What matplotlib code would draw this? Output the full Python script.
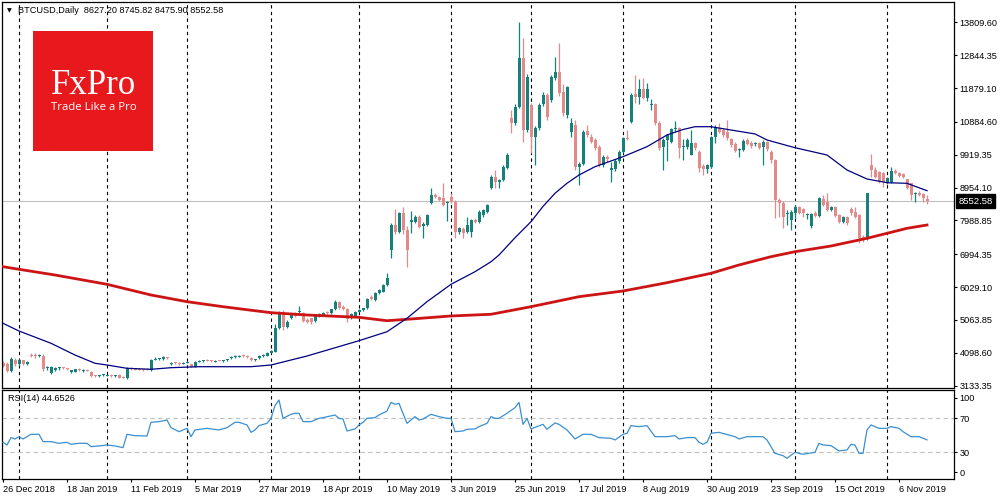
import numpy as np
import pandas as pd
import matplotlib
matplotlib.use('Agg')
import matplotlib.pyplot as plt
import matplotlib.transforms as mtransforms
from matplotlib.patches import Rectangle

plt.rcParams['font.family'] = ['Liberation Sans', 'DejaVu Sans']

# daily bars, weekdays only (no bar on 1 Jan)
dates = pd.bdate_range('2018-12-26', periods=233)
dates = dates[dates != pd.Timestamp('2019-01-01')]

opens = [
    3800, 3780, 3570, 3890, 3760, 3880, 3780, 4030, 4020, 4000,
    4020, 3640, 3520, 3600, 3640, 3660, 3630, 3550, 3545, 3610,
    3570, 3590, 3550, 3430, 3410, 3440, 3430, 3440, 3420, 3450,
    3390, 3360, 3630, 3620, 3610, 3610, 3610, 3580, 3900, 3920,
    3920, 3960, 3780, 3810, 3800, 3780, 3810, 3760, 3690, 3840,
    3850, 3890, 3870, 3840, 3880, 3860, 3890, 3940, 3980, 3990,
    4030, 4000, 3960, 3890, 3940, 4010, 4020, 4100, 4130, 4830,
    5250, 4860, 5110, 5240, 5300, 5260, 5060, 5110, 5020, 5190,
    5210, 5290, 5260, 5380, 5590, 5440, 5380, 5110, 5160, 5310,
    5360, 5410, 5750, 5650, 5850, 5900, 6090, 7120, 7860, 7660,
    8200, 7710, 7950, 7950, 8100, 7830, 7860, 8510, 8740, 8690,
    8640, 8500, 8690, 8540, 7660, 7730, 7660, 7660, 8000, 7950,
    8150, 8240, 8930, 9250, 9120, 9180, 9520, 10990, 10840, 11330,
    12750, 10645, 11380, 10450, 10690, 11400, 11670, 11530, 12160, 12360,
    11770, 11090, 10600, 10790, 9570, 9660, 10610, 10450, 10350, 10150,
    9620, 9860, 9480, 9500, 9730, 10010, 10420, 10890, 11690, 11620,
    11840, 11580, 11380, 11410, 10860, 10140, 10350, 10300, 10680, 10690,
    10140, 10140, 9920, 10250, 9990, 9600, 9490, 9570, 10450, 10695,
    10650, 10600, 10370, 10230, 10060, 10060, 10350, 10270, 10220, 10250,
    10140, 10280, 10010, 9760, 8590, 8510, 8180, 8000, 8200, 8390,
    8310, 8160, 7825, 8220, 8120, 8610, 8540, 8295, 8370, 8150,
    7950, 8080, 8315, 8250, 8150, 7510, 7430, 9617, 9470, 9420,
    9372, 9080, 9130, 9450, 9372, 9350, 9196, 9080, 8770, 8805,
    8765, 8627.20,
]
highs = [
    3860, 3820, 3980, 3950, 3930, 3900, 3860, 4080, 4090, 4060,
    4060, 3700, 3720, 3680, 3680, 3690, 3650, 3590, 3630, 3640,
    3610, 3620, 3570, 3460, 3460, 3470, 3480, 3470, 3460, 3480,
    3420, 3680, 3670, 3650, 3640, 3630, 3640, 3920, 3990, 3960,
    4010, 3990, 3820, 3830, 3820, 3830, 3850, 3780, 3860, 3880,
    3890, 3920, 3890, 3880, 3900, 3890, 3930, 4010, 4030, 4030,
    4060, 4030, 3980, 3930, 4030, 4050, 4110, 4180, 4950, 5330,
    5350, 5050, 5280, 5290, 5470, 5290, 5110, 5130, 5200, 5260,
    5300, 5330, 5400, 5640, 5620, 5500, 5420, 5260, 5330, 5380,
    5430, 5700, 5800, 5880, 5970, 6110, 6430, 7900, 8320, 8250,
    8370, 7820, 8270, 8150, 8140, 7950, 8180, 8930, 8800, 8720,
    9080, 8560, 8790, 8580, 7800, 7790, 8100, 8030, 8060, 8290,
    8330, 8480, 9330, 9470, 9210, 9620, 9960, 11230, 11400, 13828,
    13340, 12300, 11450, 10750, 11450, 11750, 11720, 12260, 12800, 13190,
    12000, 11950, 11000, 10950, 9700, 10650, 10790, 10520, 10400, 10200,
    9900, 9900, 9710, 9780, 10050, 10450, 10650, 11720, 12260, 12140,
    12160, 12040, 11550, 11440, 10900, 10400, 10520, 10700, 10920, 10720,
    10370, 10400, 10650, 10300, 10050, 9650, 9650, 10480, 10790, 10840,
    10700, 10940, 10420, 10280, 10120, 10380, 10400, 10310, 10290, 10290,
    10350, 10320, 10060, 9800, 8650, 8550, 8300, 8300, 8430, 8420,
    8350, 8220, 8220, 8260, 8680, 8735, 8785, 8420, 8400, 8170,
    8110, 8110, 8393, 8393, 8190, 7550, 8805, 9940, 9570, 9450,
    9400, 9260, 9570, 9490, 9400, 9380, 9220, 9100, 8830, 8840,
    8800, 8745.82,
]
lows = [
    3680, 3540, 3530, 3700, 3720, 3740, 3750, 3980, 3960, 3970,
    3570, 3590, 3480, 3570, 3600, 3620, 3590, 3520, 3530, 3560,
    3540, 3560, 3390, 3380, 3390, 3420, 3410, 3400, 3400, 3360,
    3350, 3340, 3600, 3580, 3580, 3570, 3580, 3570, 3880, 3890,
    3900, 3920, 3740, 3770, 3750, 3760, 3790, 3680, 3680, 3820,
    3830, 3850, 3820, 3820, 3850, 3840, 3870, 3920, 3960, 3970,
    3990, 3960, 3870, 3870, 3920, 3990, 4000, 4080, 4120, 4800,
    4780, 4820, 5080, 5150, 5270, 5000, 4980, 4960, 5000, 5160,
    5190, 5240, 5240, 5360, 5400, 5360, 4990, 5090, 5140, 5290,
    5340, 5390, 5640, 5630, 5830, 5880, 6070, 6880, 7600, 7620,
    7600, 6630, 7610, 7900, 7760, 7470, 7830, 8480, 8650, 8560,
    8400, 7960, 8500, 7460, 7600, 7460, 7620, 7490, 7900, 7920,
    8100, 8200, 8900, 8950, 8930, 9150, 9500, 10550, 10800, 11300,
    10300, 10600, 9960, 9620, 10650, 11350, 10950, 11480, 12100, 11650,
    11050, 11000, 10450, 9470, 9030, 9620, 10450, 10250, 10050, 9560,
    9560, 9700, 9130, 9450, 9690, 9980, 10350, 10840, 11450, 11420,
    11550, 11500, 11240, 10790, 10060, 9470, 9720, 10250, 10600, 9810,
    9760, 10100, 9900, 10060, 9420, 9320, 9370, 9540, 10250, 10560,
    10450, 10350, 10150, 9990, 9860, 10020, 10190, 10130, 10180, 10090,
    9620, 10040, 9670, 8050, 8100, 7760, 7850, 7710, 8050, 8180,
    8100, 8020, 7755, 8080, 8100, 8400, 8260, 8260, 8080, 7910,
    7920, 7860, 8160, 8060, 7315, 7365, 7400, 9275, 9240, 9080,
    8980, 9050, 9100, 9360, 9270, 9230, 8900, 8589, 8540, 8700,
    8540, 8475.90,
]
closes = [
    3720, 3570, 3910, 3770, 3890, 3770, 3830, 4000, 4000, 4020,
    3620, 3670, 3690, 3660, 3650, 3640, 3610, 3570, 3610, 3580,
    3590, 3570, 3420, 3410, 3440, 3450, 3450, 3420, 3440, 3370,
    3370, 3650, 3610, 3600, 3600, 3595, 3605, 3890, 3920, 3940,
    3990, 3940, 3800, 3790, 3775, 3800, 3820, 3690, 3840, 3850,
    3860, 3870, 3850, 3850, 3870, 3870, 3910, 3990, 4000, 4000,
    4010, 3980, 3890, 3910, 4010, 4030, 4090, 4150, 4820, 5250,
    4850, 5010, 5260, 5180, 5330, 5030, 5010, 4990, 5180, 5230,
    5280, 5270, 5380, 5600, 5430, 5380, 5100, 5240, 5310, 5360,
    5410, 5670, 5670, 5850, 5950, 6090, 6290, 7855, 7640, 8200,
    7700, 7130, 8000, 8100, 7800, 7870, 8150, 8740, 8690, 8600,
    8440, 8530, 8540, 7660, 7760, 7610, 7850, 8000, 7950, 8250,
    8300, 8440, 9255, 9110, 9170, 9570, 9910, 10840, 11330, 12750,
    10645, 12210, 10450, 10690, 11380, 11670, 11040, 12210, 12360, 11720,
    11140, 11920, 10840, 9570, 9660, 10600, 10500, 10300, 10110, 9620,
    9860, 9790, 9520, 9730, 10010, 10400, 10390, 11670, 11625, 11850,
    11580, 11840, 11410, 10860, 10110, 10350, 10500, 10665, 10700, 10110,
    10170, 10350, 10250, 10110, 9520, 9490, 9620, 10430, 10740, 10597,
    10500, 10400, 10205, 10040, 10080, 10330, 10230, 10175, 10240, 10130,
    10300, 10080, 9760, 8590, 8490, 8100, 8210, 8250, 8390, 8220,
    8200, 8180, 8180, 8120, 8640, 8440, 8295, 8390, 8120, 7950,
    8080, 7900, 8197, 8100, 7460, 7430, 8785, 9470, 9275, 9130,
    9127, 9225, 9450, 9390, 9294, 9255, 8932, 8736, 8800, 8736,
    8640, 8552.58,
]

# moving averages (bar index, price)
ma_fast_bars = [0, 4, 12, 18, 23, 26, 31, 37, 42, 49, 62, 67, 76, 89, 96, 101,
                106, 112, 118, 122, 124, 128, 132, 135, 138, 141, 144, 148, 155,
                161, 166, 170, 173, 177, 182, 188, 191, 198, 206, 211, 216, 221,
                226, 231]
ma_fast = [4966, 4740, 4379, 4034, 3791, 3741, 3644, 3615, 3662, 3691, 3691,
           3741, 4005, 4455, 4719, 5113, 5601, 6112, 6482, 6775, 6973, 7480,
           7951, 8400, 8786, 9080, 9323, 9567, 9861, 10155, 10499, 10660,
           10742, 10742, 10645, 10530, 10352, 10125, 9911, 9470, 9206, 9097,
           9079, 8862]
ma_slow_bars = [0, 4, 13, 26, 37, 46, 55, 62, 67, 76, 89, 96, 101, 112, 122,
                132, 144, 155, 166, 177, 184, 192, 198, 207, 216, 221, 226, 231]
ma_slow = [6629, 6553, 6385, 6112, 5798, 5601, 5454, 5350, 5278, 5210, 5142,
           5042, 5084, 5181, 5231, 5454, 5748, 5915, 6159, 6435, 6680, 6923,
           7070, 7237, 7464, 7610, 7757, 7854]

rsi_bars = [0, 1, 2, 3, 4, 5, 7, 9, 10, 12, 14, 16, 17, 19, 21, 22, 24, 26, 28,
            30, 31, 33, 36, 37, 39, 41, 42, 44, 46, 47, 48, 51, 54, 56, 58, 59,
            61, 62, 63, 64, 66, 67, 68, 69, 70, 72, 73, 74, 75, 77, 79, 80, 83,
            84, 85, 86, 88, 89, 90, 91, 93, 94, 96, 97, 98, 99, 101, 103, 104,
            105, 107, 109, 111, 112, 113, 115, 116, 118, 119, 121, 122, 123,
            124, 126, 128, 129, 130, 131, 132, 135, 136, 138, 139, 141, 143,
            145, 147, 149, 152, 153, 155, 156, 157, 159, 161, 163, 166, 168,
            169, 171, 173, 174, 175, 176, 177, 179, 183, 184, 186, 188, 190,
            191, 193, 195, 196, 198, 200, 203, 204, 205, 207, 208, 209, 211,
            212, 213, 214, 215, 216, 217, 219, 221, 222, 224, 225, 227, 229, 231]
rsi_vals = [41.8, 38.6, 47.3, 45.7, 48.4, 45.7, 51.2, 51.2, 42.6, 42.6, 40.6,
            41.8, 39.4, 40.6, 40.6, 36.7, 37.5, 38.6, 37.5, 35.5, 51.2, 49.6,
            49.2, 65.3, 66.1, 68.0, 59.0, 54.3, 58.2, 48.4, 56.3, 58.2, 56.3,
            59.0, 65.3, 65.3, 62.2, 53.5, 56.3, 61.4, 64.1, 70.0, 84.9, 91.6,
            70.0, 74.7, 75.9, 75.9, 66.1, 66.1, 70.0, 70.8, 73.9, 70.0, 69.2,
            55.1, 57.5, 62.2, 65.3, 70.0, 70.8, 73.9, 78.6, 88.8, 86.5, 87.6,
            64.1, 72.0, 68.0, 69.2, 74.7, 72.0, 70.0, 70.0, 54.3, 55.1, 57.1,
            57.5, 60.2, 64.1, 72.0, 70.0, 70.0, 75.9, 82.5, 88.8, 62.9, 70.0,
            57.5, 62.9, 57.1, 64.5, 62.9, 56.3, 45.7, 51.2, 51.2, 47.3, 46.5,
            44.5, 51.2, 52.4, 61.4, 60.2, 61.4, 48.4, 48.4, 49.6, 45.7, 47.3,
            47.3, 41.8, 39.4, 41.8, 52.4, 53.5, 48.4, 45.7, 48.4, 48.4, 48.4,
            44.5, 28.8, 26.1, 23.0, 30.0, 27.7, 30.0, 40.6, 38.6, 37.9, 34.7,
            31.6, 32.8, 39.4, 38.6, 28.8, 28.8, 56.3, 62.2, 58.2, 58.2, 60.2,
            58.2, 54.3, 48.4, 48.4, 44.6526]

price_ticks = [13809.60, 12844.35, 11879.10, 10884.60, 9919.35, 8954.10,
               7988.85, 6994.35, 6029.10, 5063.85, 4098.60, 3133.35]
rsi_levels = [70, 30]
rsi_tick_labels = ['100', '70', '30', '0']

BULL = '#16807a'
BEAR = '#e38b8b'

fig = plt.figure(figsize=(10, 5), dpi=100)
ax = fig.add_axes([0.002, 0.225, 0.952, 0.771])
ax2 = fig.add_axes([0.002, 0.043, 0.952, 0.178])

x = np.arange(len(closes))
o = np.array(opens, dtype=float)
c = np.array(closes, dtype=float)
h = np.array(highs, dtype=float)
l = np.array(lows, dtype=float)
col = np.where(c >= o, BULL, BEAR)

# month separators
month_starts = [i for i in range(1, len(dates)) if dates[i].month != dates[i - 1].month]
for a in (ax, ax2):
    for i in month_starts:
        a.axvline(i, color='black', lw=0.8, ls=(0, (3, 3)), zorder=1)

ax.axhline(closes[-1], color='#c0c0c0', lw=0.8, zorder=1)
ax.vlines(x, l, h, colors=col, lw=0.9, zorder=2)
ax.bar(x, np.maximum(np.abs(c - o), 30), bottom=np.minimum(o, c), width=0.75,
       color=col, linewidth=0, zorder=2, antialiased=False)
ax.plot(ma_slow_bars, ma_slow, color='#cc1414', lw=2.0, zorder=3)
ax.plot(ma_fast_bars, ma_fast, color='#000080', lw=0.9, zorder=3)

ax.set_xlim(-0.25, 237.75)
ax.set_ylim(3080, 14406)
ax.set_xticks([])
ax.yaxis.tick_right()
ax.set_yticks(price_ticks)
ax.set_yticklabels([f'{v:.2f}' for v in price_ticks])
ax.tick_params(axis='y', direction='out', length=2.5, width=0.8, pad=1.5,
               labelsize=6.6, colors='black')

# last price box
trans = mtransforms.blended_transform_factory(ax.transAxes, ax.transData)
ax.text(1.005, closes[-1], f'{closes[-1]:.2f}', transform=trans, ha='left',
        va='center', color='white', fontsize=6.8, clip_on=False, zorder=5,
        bbox=dict(boxstyle='square,pad=0.25', fc='black', ec='black'))

# RSI panel
ax2.plot(rsi_bars, rsi_vals, color='#3b8fd0', lw=0.9, zorder=3)
for lev in rsi_levels:
    ax2.axhline(lev, color='#c0c0c0', lw=0.8, ls=(0, (4, 3)), zorder=1)
ax2.set_xlim(-0.25, 237.75)
ax2.set_ylim(-0.8, 103.9)
ax2.yaxis.tick_right()
ax2.set_yticks([94.2, 70, 30, 6.5])
ax2.set_yticklabels(rsi_tick_labels)
ax2.tick_params(axis='y', direction='out', length=2.5, width=0.8, pad=1.5,
                labelsize=6.6)
label_bars = list(range(0, len(dates), 16))
ax2.set_xticks(label_bars)
ax2.set_xticklabels([f'{dates[i].day} {dates[i].strftime("%b %Y")}' for i in label_bars])
ax2.tick_params(axis='x', direction='out', length=2.5, width=0.8, pad=2.5,
                labelsize=6.6)
for t in ax2.get_xticklabels():
    t.set_ha('left')

for a in (ax, ax2):
    for s in a.spines.values():
        s.set_color('black')
        s.set_linewidth(0.9)

ax2.text(0.006, 0.9, f'RSI(14) {rsi_vals[-1]:.4f}', transform=ax2.transAxes,
         fontsize=6.6, va='center', ha='left')

# header
fig.text(0.007, 1 - 10.5 / 500, '\u25bc', fontsize=4.5, va='center', ha='left',
         family='DejaVu Sans')
fig.text(0.018, 1 - 10.5 / 500,
         f'BTCUSD,Daily  {opens[-1]:.2f} {highs[-1]:.2f} {lows[-1]:.2f} {closes[-1]:.2f}',
         fontsize=6.6, va='center', ha='left')

# FxPro logo
fig.add_artist(Rectangle((0.033, 1 - 151 / 500), 0.120, 0.240,
                         transform=fig.transFigure, fc='#e8191c', ec='none', zorder=6))
fig.text(0.0935, 1 - 94 / 500, 'FxPro', color='white', fontsize=25,
         family='Liberation Serif', ha='center', va='baseline', zorder=7)
fig.text(0.0935, 1 - 110 / 500, 'Trade Like a Pro', color='white', fontsize=8.2,
         family='Open Sans', ha='center', va='baseline', zorder=7)

fig.savefig('out.png', dpi=100)
